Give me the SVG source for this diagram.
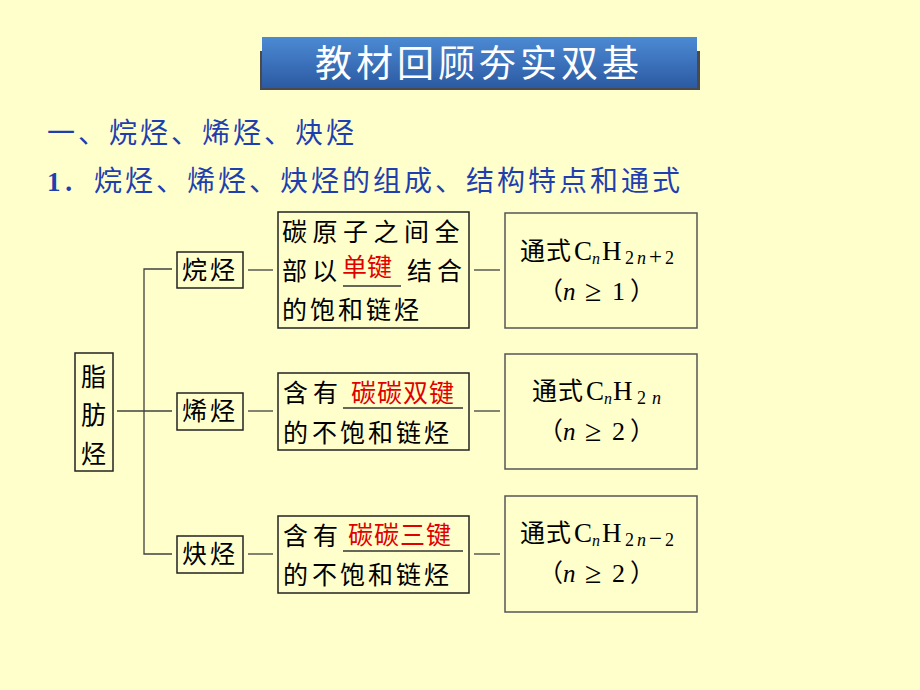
<svg xmlns="http://www.w3.org/2000/svg" width="920" height="690" viewBox="0 0 920 690">
<defs>
<linearGradient id="bannerGrad" x1="0" y1="0" x2="0" y2="1">
<stop offset="0" stop-color="#4C8AD4"/>
<stop offset="1" stop-color="#2B5AA2"/>
</linearGradient>
<style>
.cjk{font-family:"Noto Sans CJK SC","Noto Sans",sans-serif;}
.head{font-family:"Noto Sans CJK SC",sans-serif;font-size:28px;fill:#1F3FB0;letter-spacing:3px;}
.t{font-family:"Noto Sans CJK SC",sans-serif;font-size:25px;fill:#000;}
.red{fill:#E00000;}
.ser{font-family:"Liberation Serif","Noto Sans CJK SC",serif;fill:#000;}
.box{fill:none;stroke:#222;stroke-width:1.5;}
.fbox{fill:none;stroke:#555;stroke-width:1.5;}
.ln{stroke:#404040;stroke-width:1.3;fill:none;}
.ul{stroke:#333;stroke-width:1.3;}
</style>
</defs>
<rect width="920" height="690" fill="#FFFFCC"/>

<g id="title">
<rect x="260" y="51" width="440" height="39" fill="#4A4A4A"/>
<rect x="262" y="37" width="435" height="51" fill="url(#bannerGrad)"/>
<text x="479" y="77" text-anchor="middle" class="cjk" font-size="37" fill="#FFFFFF" letter-spacing="4">教材回顾夯实双基</text>
</g>

<g id="heading">
<text x="47" y="143" class="head">一、烷烃、烯烃、炔烃</text>
<text x="47" y="191" font-family="Liberation Serif,serif" font-weight="bold" font-size="27" fill="#1F3FB0">1</text>
<text x="62" y="191" class="head">．</text>
<text x="94" y="191" class="head">烷烃、烯烃、炔烃的组成、结构特点和通式</text>
</g>

<g id="connectors">
<line class="ln" x1="117" y1="411" x2="172" y2="411"/>
<polyline class="ln" points="172,269 144,269 144,554 172,554"/>
<line class="ln" x1="248" y1="270" x2="273" y2="270"/>
<line class="ln" x1="248" y1="411" x2="273" y2="411"/>
<line class="ln" x1="248" y1="554" x2="273" y2="554"/>
<line class="ln" x1="474" y1="270" x2="500" y2="270"/>
<line class="ln" x1="474" y1="411" x2="500" y2="411"/>
<line class="ln" x1="474" y1="554" x2="500" y2="554"/>
</g>

<g id="root">
<rect class="box" x="75" y="353" width="38" height="118"/>
<text x="81" y="386" class="t">脂</text>
<text x="81" y="424" class="t">肪</text>
<text x="81" y="463" class="t">烃</text>
</g>

<g id="alkane">
<rect class="box" x="177" y="252" width="66" height="36"/>
<text x="182" y="279" class="t" letter-spacing="3">烷烃</text>
</g>
<g id="alkene">
<rect class="box" x="177" y="393" width="66" height="37"/>
<text x="182" y="420" class="t" letter-spacing="3">烯烃</text>
</g>
<g id="alkyne">
<rect class="box" x="177" y="536" width="66" height="37"/>
<text x="182" y="563" class="t" letter-spacing="3">炔烃</text>
</g>

<g id="alkane-desc">
<rect class="box" x="278" y="212" width="191" height="116"/>
<text class="t" y="241" x="282 312.5 343 373.5 404 434.5">碳原子之间全</text>
<text class="t" y="280" x="282 312">部以</text>
<text class="t red" y="276" x="342 367">单键</text>
<line class="ul" x1="343" y1="286" x2="401" y2="286"/>
<text class="t" y="280" x="407 437">结合</text>
<text class="t" y="319" x="282 310 338 366 394">的饱和链烃</text>
</g>

<g id="alkene-desc">
<rect class="box" x="278" y="373" width="191" height="77"/>
<text class="t" y="402" x="283 313">含有</text>
<text class="t red" y="402" x="351 377 403 429">碳碳双键</text>
<line class="ul" x1="343" y1="408" x2="463" y2="408"/>
<text class="t" y="442" x="283 312 340 368 396 424">的不饱和链烃</text>
</g>

<g id="alkyne-desc">
<rect class="box" x="278" y="516" width="191" height="77"/>
<text class="t" y="545" x="283 313">含有</text>
<text class="t red" y="544" x="348 374 400 426">碳碳三键</text>
<line class="ul" x1="343" y1="551" x2="463" y2="551"/>
<text class="t" y="584" x="283 312 340 368 396 424">的不饱和链烃</text>
</g>

<g id="alkane-formula">
<rect class="fbox" x="505" y="213" width="192" height="115"/>
<text class="t" y="260" x="520 546" font-size="24">通式</text>
<text class="ser" y="260" x="574" font-size="27">C</text>
<text class="ser" y="264" x="592" font-size="16" font-style="italic">n</text>
<text class="ser" y="260" x="602" font-size="27">H</text>
<text class="ser" y="264" x="625" font-size="18">2</text>
<text class="ser" y="264" x="637" font-size="18" font-style="italic">n</text>
<text class="ser" y="264" x="649" font-size="23">+</text>
<text class="ser" y="264" x="665" font-size="18">2</text>
<text class="t" y="300" x="538" font-size="24">（</text>
<text class="ser" y="300" x="563" font-size="25" font-style="italic">n</text>
<text class="ser" y="301" x="585" font-size="30">≥</text>
<text class="ser" y="300" x="612" font-size="26">1</text>
<text class="t" y="300" x="630" font-size="24">）</text>
</g>

<g id="alkene-formula">
<rect class="fbox" x="505" y="354" width="192" height="115"/>
<text class="t" y="400" x="532 558" font-size="24">通式</text>
<text class="ser" y="400" x="586" font-size="27">C</text>
<text class="ser" y="404" x="604" font-size="16" font-style="italic">n</text>
<text class="ser" y="400" x="613" font-size="27">H</text>
<text class="ser" y="404" x="637" font-size="18">2</text>
<text class="ser" y="404" x="652" font-size="18" font-style="italic">n</text>
<text class="t" y="440" x="538" font-size="24">（</text>
<text class="ser" y="440" x="563" font-size="25" font-style="italic">n</text>
<text class="ser" y="441" x="585" font-size="30">≥</text>
<text class="ser" y="440" x="612" font-size="26">2</text>
<text class="t" y="440" x="630" font-size="24">）</text>
</g>

<g id="alkyne-formula">
<rect class="fbox" x="505" y="496" width="192" height="116"/>
<text class="t" y="542" x="520 546" font-size="24">通式</text>
<text class="ser" y="542" x="574" font-size="27">C</text>
<text class="ser" y="546" x="592" font-size="16" font-style="italic">n</text>
<text class="ser" y="542" x="602" font-size="27">H</text>
<text class="ser" y="546" x="625" font-size="18">2</text>
<text class="ser" y="546" x="637" font-size="18" font-style="italic">n</text>
<text class="ser" y="546" x="649" font-size="23">−</text>
<text class="ser" y="546" x="665" font-size="18">2</text>
<text class="t" y="582" x="538" font-size="24">（</text>
<text class="ser" y="582" x="563" font-size="25" font-style="italic">n</text>
<text class="ser" y="583" x="585" font-size="30">≥</text>
<text class="ser" y="582" x="612" font-size="26">2</text>
<text class="t" y="582" x="630" font-size="24">）</text>
</g>
</svg>
